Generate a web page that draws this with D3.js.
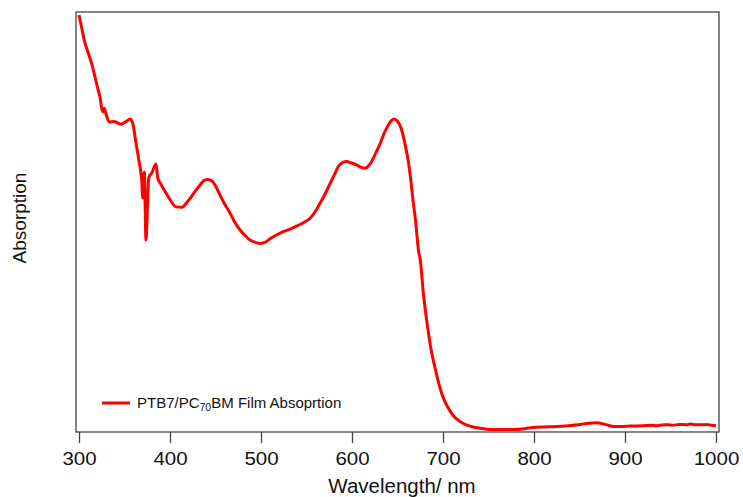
<!DOCTYPE html>
<html>
<head>
<meta charset="utf-8">
<script src="https://cdn.jsdelivr.net/npm/d3@7"></script>
<style>
  html, body { margin: 0; padding: 0; background: #fff; }
  svg { display: block; }
  text { font-family: "Liberation Sans", Arial, sans-serif; fill: #111; }
</style>
</head>
<body>
<svg id="chart" width="743" height="497"></svg>
<script>
// Absorption spectrum of a PTB7/PC70BM film (arbitrary absorbance units)
const wavelength = [
  300, 303, 306.6, 309, 312, 315, 317.6, 320.5, 323, 326, 327.8, 329.7, 333.3, 338.8, 342.5,
  346.2, 351.6, 356, 359, 362.6, 366.3, 368.9, 370, 371.8, 373.6, 376.6, 380, 384.6, 386.5,
  390, 395.6, 401, 406.6, 413, 418, 422, 428, 433, 437, 441, 446, 450, 455, 460, 466, 471,
  477, 483, 488, 493, 499, 505, 510, 517, 524.5, 532, 539, 547, 554, 560, 565, 571, 576,
  581, 585, 590, 594, 600, 605, 610, 614, 618, 621.6, 626, 631, 635, 638, 642, 646, 650,
  654.6, 658, 662, 665, 667, 670, 673, 675, 678.4, 681, 684, 687, 691, 695, 700, 705, 711,
  718, 725.6, 733, 740.7, 751.6, 765, 777, 790, 799, 812, 825, 838, 851, 860, 869, 875,
  880, 887.6, 895, 906, 920, 930, 935, 943, 948, 952, 960, 965, 968, 972, 978, 985, 990,
  995, 1000
];
const absorbance = [
  0.993, 0.962, 0.926, 0.910, 0.890, 0.869, 0.845, 0.819, 0.798, 0.762, 0.771, 0.757, 0.738, 0.739, 0.736,
  0.733, 0.739, 0.745, 0.735, 0.688, 0.640, 0.600, 0.557, 0.619, 0.457, 0.605, 0.617, 0.638, 0.605,
  0.590, 0.569, 0.550, 0.536, 0.535, 0.545, 0.556, 0.574, 0.588, 0.598, 0.601, 0.598, 0.586, 0.564, 0.543, 0.521, 0.500,
  0.481, 0.467, 0.457, 0.452, 0.449, 0.452, 0.460, 0.469, 0.477, 0.483, 0.490, 0.499, 0.509, 0.526, 0.545, 0.569, 0.592,
  0.614, 0.632, 0.642, 0.644, 0.640, 0.636, 0.630, 0.628, 0.633, 0.644, 0.664, 0.687, 0.710, 0.723, 0.738, 0.745, 0.740,
  0.719, 0.688, 0.643, 0.593, 0.552, 0.500, 0.433, 0.410, 0.331, 0.283, 0.236, 0.195, 0.155, 0.119, 0.083, 0.060, 0.040,
  0.026, 0.017, 0.012, 0.009, 0.006, 0.006, 0.006, 0.008, 0.011, 0.012, 0.013, 0.015, 0.018, 0.021, 0.022, 0.020,
  0.017, 0.013, 0.013, 0.014, 0.015, 0.016, 0.015, 0.017, 0.017, 0.016, 0.018, 0.018, 0.017, 0.019, 0.017, 0.017, 0.018,
  0.016, 0.015
];
const xTicks = [300, 400, 500, 600, 700, 800, 900, 1000];
const seriesName = "PTB7/PC";
const seriesSub = "70";
const seriesRest = "BM Film Absoprtion";
const xTitle = "Wavelength/ nm";
const yTitle = "Absorption";

const data = wavelength.map((w, i) => ({ w, a: absorbance[i] }));

const svg = d3.select("#chart");
const frame = { left: 76, right: 719, top: 12, bottom: 432 };

const x = d3.scaleLinear().domain([300, 1000]).range([79, 716]);
const y = d3.scaleLinear().domain([0, 1]).range([frame.bottom, frame.top]);

// plot frame
svg.append("rect")
  .attr("x", frame.left).attr("y", frame.top)
  .attr("width", frame.right - frame.left)
  .attr("height", frame.bottom - frame.top)
  .attr("fill", "none").attr("stroke", "#444").attr("stroke-width", 1.3);

// bottom axis: outward ticks, no domain line (frame draws it)
const xAxis = svg.append("g")
  .attr("transform", `translate(0,${frame.bottom})`)
  .call(d3.axisBottom(x).tickValues(xTicks).tickSize(11).tickPadding(9).tickFormat(d3.format("d")));
xAxis.select(".domain").remove();
xAxis.selectAll(".tick line").attr("stroke", "#444").attr("stroke-width", 1.3);
xAxis.selectAll(".tick text")
  .attr("font-size", 19)
  .attr("font-family", "Liberation Sans, Arial, sans-serif")
  .attr("fill", "#111")
  .attr("transform", "scale(1.08,1)");

// spectrum
const line = d3.line()
  .x(d => x(d.w))
  .y(d => y(d.a))
  .curve(d3.curveMonotoneX);

svg.append("path")
  .datum(data)
  .attr("d", line)
  .attr("fill", "none")
  .attr("stroke", "#ff0000")
  .attr("stroke-width", 3)
  .attr("stroke-linejoin", "round");

// legend
const lg = svg.append("g").attr("transform", "translate(102,403)");
lg.append("line").attr("x1", 0).attr("x2", 28).attr("y1", 0).attr("y2", 0)
  .attr("stroke", "#ff0000").attr("stroke-width", 3);
const lt = lg.append("text").attr("x", 35).attr("y", 5).attr("font-size", 15);
lt.append("tspan").text(seriesName);
lt.append("tspan").attr("font-size", 10.5).attr("dy", 3).text(seriesSub);
lt.append("tspan").attr("dy", -3).text(seriesRest);

// axis titles
svg.append("text")
  .attr("x", 402).attr("y", 493)
  .attr("text-anchor", "middle")
  .attr("font-size", 20.5)
  .text(xTitle);

svg.append("text")
  .attr("transform", "translate(26,218) rotate(-90)")
  .attr("text-anchor", "middle")
  .attr("font-size", 19)
  .text(yTitle);
</script>
</body>
</html>
